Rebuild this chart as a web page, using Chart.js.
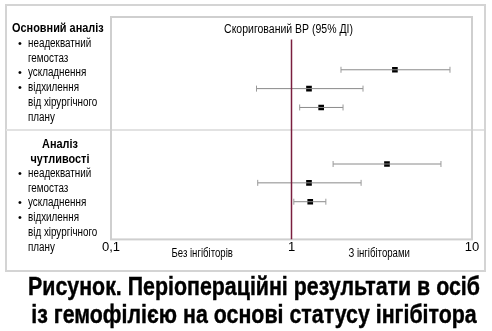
<!DOCTYPE html>
<html>
<head>
<meta charset="utf-8">
<script src="https://cdn.jsdelivr.net/npm/chart.js@4/dist/chart.umd.min.js"></script>
<style>
  html, body { margin: 0; padding: 0; background: #fff; }
  #wrap { position: relative; width: 492px; height: 331px; overflow: hidden;
          font-family: "Liberation Sans", Arial, sans-serif; color: #000; }
  #chart { position: absolute; left: 0; top: 0; }
  .frame { position: absolute; left: 5px; top: 4px; width: 477px; height: 264px;
           border: 2px solid #d4d4d4; }
  .sep { position: absolute; left: 6px; top: 129px; width: 478px; height: 2px; background: #e2e2e2; }
  .lbl { position: absolute; font-size: 12px; line-height: 15px; white-space: nowrap;
         transform: scaleX(0.82); transform-origin: left center; }
  .lbl.b { font-weight: bold; font-size: 13px; transform: scaleX(0.84); }
  .lbl.c { transform-origin: center center; }
  .bul { position: absolute; font-size: 11px; line-height: 15px; }
  .caption { position: absolute; left: 254px; white-space: nowrap; font-weight: bold;
             font-size: 25px; line-height: 28px; -webkit-text-stroke: 0.4px #000;
             transform-origin: center center; }
</style>
</head>
<body>
<div id="wrap">
  <div class="frame"></div>
  <div class="sep"></div>
  <canvas id="chart" width="492" height="331"></canvas>
  <div id="labels"></div>
  <div class="caption" style="top:272px">Рисунок. Періопераційні результати в осіб</div>
  <div class="caption" style="top:300px">із гемофілією на основі статусу інгібітора</div>
</div>
<script>
// Values (odds ratio with 95% CI), top row first
const rows     = [3, 4, 5, 8, 9, 10];
const orValues = [3.74, 1.25, 1.46, 3.38, 1.25, 1.27];
const ciLow    = [1.88, 0.64, 1.11, 1.70, 0.65, 1.03];
const ciHigh   = [7.55, 2.49, 1.93, 6.73, 2.43, 1.55];
const xTicks   = [0.1, 1, 10];

// Left-hand labels: [text, top, left, kind]
const leftLabels = [
  ['Основний аналіз', 20, 12, 'b'],
  ['неадекватний', 36, 28, 'i'],
  ['гемостаз', 51, 28, ''],
  ['ускладнення', 65, 28, 'i'],
  ['відхилення', 80, 28, 'i'],
  ['від хірургічного', 95, 28, ''],
  ['плану', 110, 28, ''],
  ['Аналіз', 136, 'c', 'b'],
  ['чутливості', 151, 'c', 'b'],
  ['неадекватний', 166, 28, 'i'],
  ['гемостаз', 181, 28, ''],
  ['ускладнення', 195, 28, 'i'],
  ['відхилення', 210, 28, 'i'],
  ['від хірургічного', 225, 28, ''],
  ['плану', 240, 28, '']
];

const holder = document.getElementById('labels');
leftLabels.forEach(([text, top, left, kind]) => {
  const d = document.createElement('div');
  d.className = 'lbl' + (kind === 'b' ? ' b' : '') + (left === 'c' ? ' c' : '');
  d.textContent = text;
  d.style.top = top + 'px';
  if (left === 'c') {
    d.style.left = '10px';
    d.style.width = '100px';
    d.style.textAlign = 'center';
  } else {
    d.style.left = left + 'px';
  }
  holder.appendChild(d);
  if (kind === 'i') {
    const b = document.createElement('div');
    b.className = 'bul';
    b.textContent = '•';
    b.style.top = top + 'px';
    b.style.left = '18px';
    holder.appendChild(b);
  }
});

// squeeze the caption lines to the width they take in the original
const capLines = document.querySelectorAll('.caption');
const capK = 452 / capLines[0].getBoundingClientRect().width;
capLines.forEach(s => { s.style.transform = 'translateX(-50%) scaleX(' + capK + ')'; });

// CI lines as one dataset per row
const ciSets = rows.map((r, i) => ({
  type: 'scatter',
  data: [{ x: ciLow[i], y: r }, { x: ciHigh[i], y: r }],
  showLine: true,
  borderColor: '#8a8a8a',
  borderWidth: 1,
  pointStyle: 'line',
  rotation: 90,
  pointRadius: 3,
  pointBorderColor: '#9a9a9a',
  pointBorderWidth: 1
}));

// reference line at OR = 1, starting below the heading
const refLine = {
  type: 'scatter',
  data: [{ x: 1, y: 1.4 }, { x: 1, y: 12 }],
  showLine: true,
  borderColor: '#7a1e3e',
  borderWidth: 1.5,
  pointRadius: 0
};

const points = {
  type: 'scatter',
  data: rows.map((r, i) => ({ x: orValues[i], y: r })),
  pointStyle: 'rect',
  pointRadius: 4,
  backgroundColor: '#000',
  borderColor: '#000',
  borderWidth: 0
};

function squeezedText(ctx, text, x, y, k) {
  ctx.save();
  ctx.translate(x, y);
  ctx.scale(k, 1);
  ctx.fillText(text, 0, 0);
  ctx.restore();
}

const extras = {
  id: 'extras',
  beforeDatasetsDraw(chart) {
    const { ctx, chartArea: a } = chart;
    ctx.save();
    ctx.strokeStyle = '#cfcfcf';
    ctx.lineWidth = 2;
    ctx.strokeRect(a.left, a.top, a.right - a.left, a.bottom - a.top);
    ctx.restore();
  },
  afterDraw(chart) {
    const { ctx, chartArea: a, scales } = chart;
    const x = scales.x;
    ctx.save();
    ctx.fillStyle = '#000';
    ctx.textAlign = 'center';
    ctx.textBaseline = 'middle';
    ctx.font = '12.5px "Liberation Sans", Arial, sans-serif';
    squeezedText(ctx, 'Скоригований ВР (95% ДІ)', x.getPixelForValue(1) - 3, a.top + 13, 0.84);
    ctx.font = '12px "Liberation Sans", Arial, sans-serif';
    squeezedText(ctx, 'Без інгібіторів', x.getPixelForValue(0.32), a.bottom + 14, 0.8);
    squeezedText(ctx, 'З інгібіторами', x.getPixelForValue(3.06), a.bottom + 14, 0.8);
    ctx.restore();
  }
};

new Chart(document.getElementById('chart'), {
  type: 'scatter',
  data: { datasets: [refLine, ...ciSets, points] },
  options: {
    responsive: false,
    animation: false,
    layout: { padding: { left: 111, right: 20, top: 17, bottom: 76 } },
    plugins: { legend: { display: false }, tooltip: { enabled: false } },
    scales: {
      x: {
        type: 'logarithmic',
        min: 0.1,
        max: 10,
        afterBuildTicks: (axis) => { axis.ticks = xTicks.map(v => ({ value: v })); },
        grid: { display: false, drawTicks: false, tickLength: 0 },
        border: { display: false },
        ticks: {
          color: '#000',
          padding: 0,
          maxRotation: 0,
          font: { family: '"Liberation Sans", Arial, sans-serif', size: 13 },
          callback: (v) => String(v).replace('.', ',')
        }
      },
      y: {
        display: false,
        reverse: true,
        min: 0.2,
        max: 12
      }
    }
  },
  plugins: [extras]
});
</script>
</body>
</html>
